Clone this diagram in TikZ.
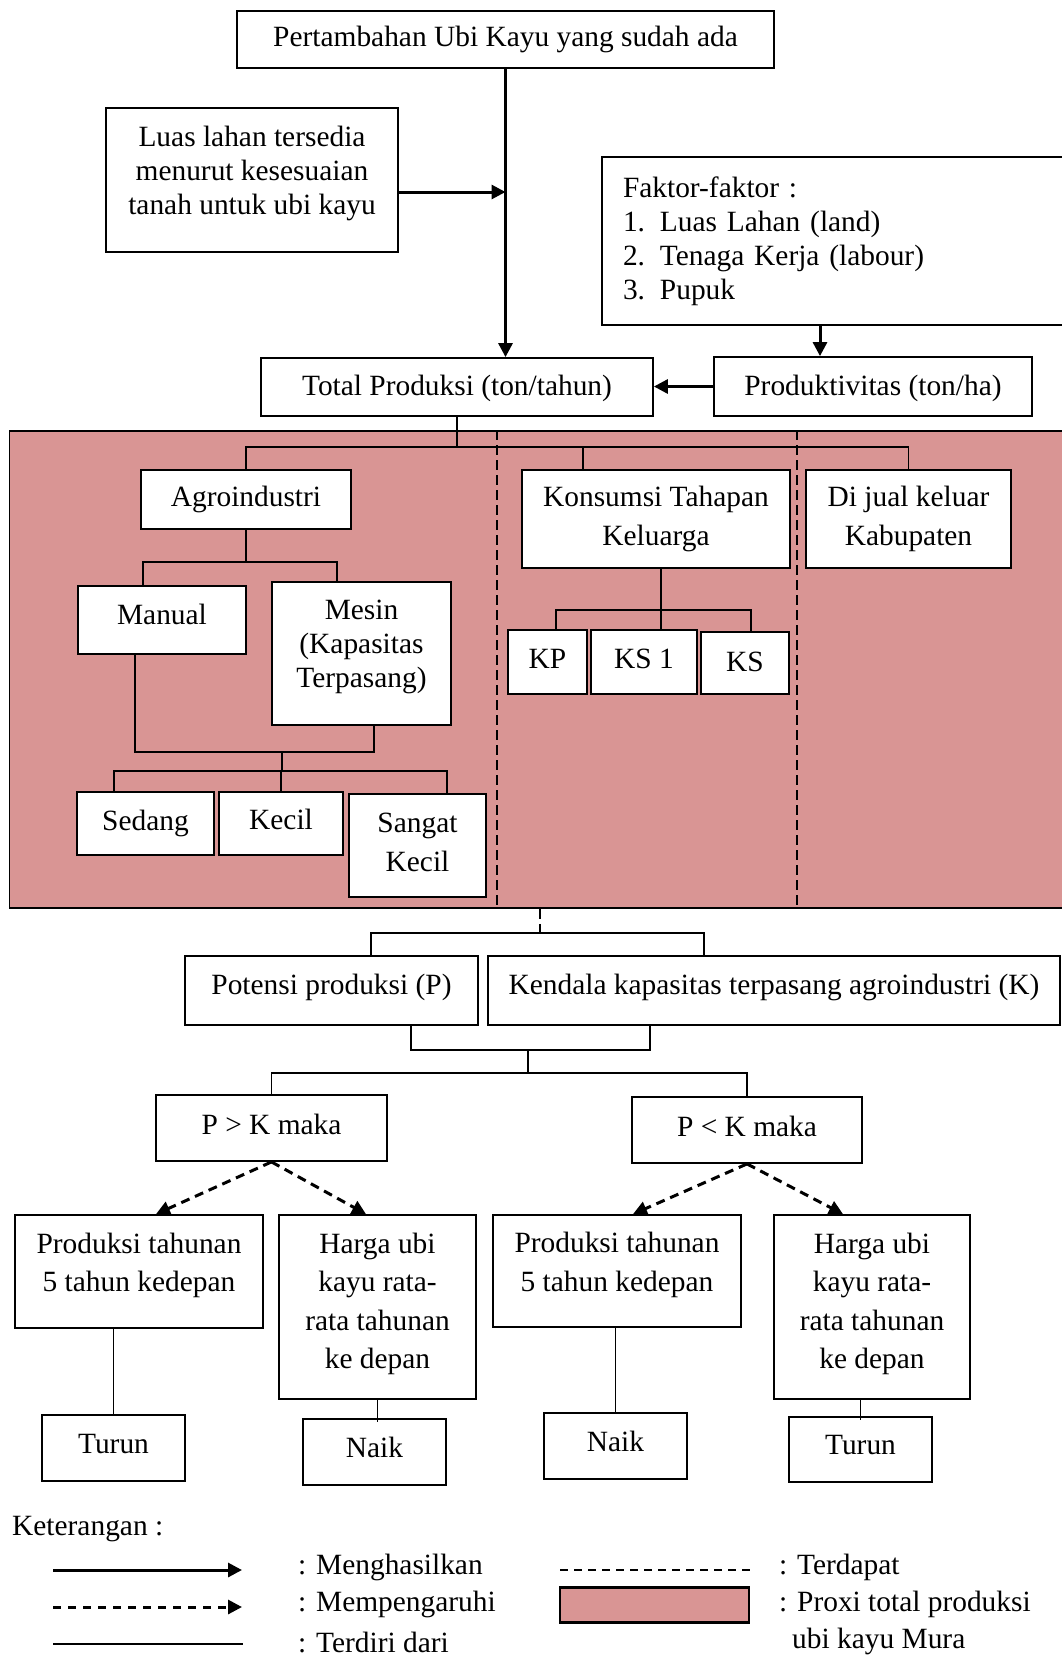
\documentclass[tikz,border=0pt]{standalone}
\usepackage{fontspec}
\setmainfont{Liberation Serif}
\usetikzlibrary{arrows.meta,calc}
\definecolor{pinkfill}{HTML}{D99594}
\begin{document}
\begin{tikzpicture}[x=1pt,y=-1pt,
  font=\fontsize{29.4}{34}\selectfont,
  box/.style={draw, line width=1.8pt, fill=white, inner sep=2pt, align=center},
  wide/.style={font=\fontsize{29.4}{38.5}\selectfont},
  conn/.style={line width=1.8pt},
  arr/.style={line width=3pt, -{Triangle[length=14pt,width=14pt]}},
  darr/.style={line width=3pt, dash pattern=on 9pt off 6pt, -{Triangle[length=14pt,width=14pt]}},
  sepline/.style={line width=1.5pt, dash pattern=on 10pt off 5pt},
  legtext/.style={anchor=west, inner sep=0pt},
]
\useasboundingbox (0,0) rectangle (1062,1657);
\fill[white] (0,0) rectangle (1062,1657);

% ---------- top part ----------
\node[box, minimum width=537pt, minimum height=57pt] (top) at (505.5,39.5) {Pertambahan Ubi Kayu yang sudah ada};
\node[box, minimum width=292pt, minimum height=144pt, text depth=20pt] (luas) at (252,180) {Luas lahan tersedia\\menurut kesesuaian\\tanah untuk ubi kayu};
\node[box, align=left, text width=426pt, inner xsep=21pt, minimum width=468pt, minimum height=168pt] (faktor) at (836,241)
  {Faktor-faktor :\\\makebox[37pt][l]{1.}Luas Lahan (land)\\\makebox[37pt][l]{2.}Tenaga Kerja (labour)\\\makebox[37pt][l]{3.}Pupuk};
\node[box, minimum width=392pt, minimum height=58pt, text depth=3pt] (total) at (457,387) {Total Produksi (ton/tahun)};
\node[box, minimum width=318pt, minimum height=59pt, text depth=3pt] (prod) at (873,386.5) {Produktivitas (ton/ha)};

\draw[arr] (top.south) -- (top.south |- total.north);
\draw[arr] ([yshift=-12pt]luas.east) -- ([yshift=-12pt]luas.east -| top.south);
\draw[arr] ([xshift=-53pt]prod.north |- faktor.south) -- ([xshift=-53pt]prod.north);
\draw[arr] (prod.west) -- (prod.west -| total.east);

% ---------- proxy (pink) region ----------
\node[draw, line width=1.8pt, fill=pinkfill, minimum width=1060.5pt, minimum height=477pt] (proxy) at (539.75,669.5) {};
\draw[sepline] ([xshift=-42.75pt]proxy.north) -- ([xshift=-42.75pt]proxy.south);
\draw[sepline] ([xshift=257.25pt]proxy.north) -- ([xshift=257.25pt]proxy.south);

\coordinate (j1) at (457,447);
\coordinate (j2) at (246,562);
\coordinate (j3) at (282,752);
\coordinate (j4) at (282,771);
\coordinate (j5) at (661,610);

\node[box, minimum width=210pt, minimum height=59pt] (agro) at (246,499.5) {Agroindustri};
\node[box, wide, minimum width=268pt, minimum height=98pt] (kons) at (656,519) {Konsumsi Tahapan\\Keluarga};
\node[box, wide, minimum width=205pt, minimum height=98pt] (dijual) at (908.5,519) {Di jual keluar\\Kabupaten};
\node[box, minimum width=168pt, minimum height=68pt, text depth=11pt] (manual) at (162,620) {Manual};
\node[box, minimum width=179pt, minimum height=143pt, text depth=20pt] (mesin) at (361.5,653.5) {Mesin\\(Kapasitas\\Terpasang)};
\node[box, minimum width=137pt, minimum height=63pt] (sedang) at (145.5,823.5) {Sedang};
\node[box, minimum width=124pt, minimum height=63pt, text depth=8pt] (kecil) at (281,823.5) {Kecil};
\node[box, wide, minimum width=137pt, minimum height=103pt, text depth=6pt] (sangat) at (417.5,845.5) {Sangat\\Kecil};
\node[box, minimum width=79pt, minimum height=64pt, text depth=7pt] (kp) at (547.5,662) {KP};
\node[box, minimum width=106pt, minimum height=64pt, text depth=7pt] (ks1) at (644,662) {KS 1};
\node[box, minimum width=88pt, minimum height=62pt, text depth=2pt] (ks) at (745,663) {KS};

\draw[conn] (total.south) -- (j1);
\draw[conn] (agro.north) |- (j1);
\draw[conn] (dijual.north) |- (j1);
\draw[conn] ([xshift=-73pt]kons.north) -- ([xshift=-73pt]kons.north |- j1);

\draw[conn] (agro.south) -- (j2);
\draw[conn] ([xshift=-19pt]manual.north) |- (j2);
\draw[conn] ([xshift=-24.5pt]mesin.north) |- (j2);
\draw[conn] ([xshift=-27pt]manual.south) |- (j3);
\draw[conn] ([xshift=12.5pt]mesin.south) |- (j3);
\draw[conn] (j3) -- (j4);
\draw[conn] ([xshift=-31.5pt]sedang.north) |- (j4);
\draw[conn] (kecil.north) -- (kecil.north |- j4);
\draw[conn] ([xshift=29.5pt]sangat.north) |- (j4);

\draw[conn] ([xshift=5pt]kons.south) -- ([xshift=5pt]kons.south |- ks1.north);
\draw[conn] ([xshift=8.5pt]kp.north) |- (j5);
\draw[conn] ([xshift=6pt]ks.north) |- (j5);

% ---------- lower part ----------
\coordinate (j6) at (539.75,933);
\coordinate (j7) at (528,1050);
\coordinate (j8) at (528,1073);

\node[box, minimum width=293pt, minimum height=69pt, text depth=12pt] (potensi) at (331.5,990.5) {Potensi produksi (P)};
\node[box, minimum width=572pt, minimum height=69pt, text depth=12pt] (kendala) at (774,990.5) {Kendala kapasitas terpasang agroindustri (K)};
\node[box, minimum width=231pt, minimum height=66pt, text depth=8pt] (pk1) at (271.5,1128) {P \symbol{62} K maka};
\node[box, minimum width=230pt, minimum height=66pt, text depth=8pt] (pk2) at (747,1130) {P \symbol{60} K maka};

\node[box, wide, minimum width=248pt, minimum height=113pt, text depth=18pt] (prodL) at (139,1271.5) {Produksi tahunan\\5 tahun kedepan};
\node[box, wide, minimum width=197pt, minimum height=184pt, text depth=12pt] (hargaL) at (377.5,1307) {Harga ubi\\kayu rata-\\rata tahunan\\ke depan};
\node[box, wide, minimum width=248pt, minimum height=112pt, text depth=18pt] (prodR) at (617,1271) {Produksi tahunan\\5 tahun kedepan};
\node[box, wide, minimum width=196pt, minimum height=184pt, text depth=12pt] (hargaR) at (872,1307) {Harga ubi\\kayu rata-\\rata tahunan\\ke depan};

\node[box, minimum width=143pt, minimum height=66pt, text depth=9pt] (turunL) at (113.5,1448) {Turun};
\node[box, minimum width=143pt, minimum height=66pt, text depth=9pt] (naikL) at (374.5,1452) {Naik};
\node[box, minimum width=143pt, minimum height=66pt, text depth=9pt] (naikR) at (615.5,1446) {Naik};
\node[box, minimum width=143pt, minimum height=65pt, text depth=9pt] (turunR) at (860.5,1449.5) {Turun};

\draw[sepline] (proxy.south) -- (j6);
\draw[conn] ([xshift=39.5pt]potensi.north) |- (j6);
\draw[conn] ([xshift=-70pt]kendala.north) |- (j6);
\draw[conn] ([xshift=79.5pt]potensi.south) |- (j7);
\draw[conn] ([xshift=-124pt]kendala.south) |- (j7);
\draw[conn] (j7) -- (j8);
\draw[conn] (pk1.north) |- (j8);
\draw[conn] (pk2.north) |- (j8);

\draw[darr] (pk1.south) -- ([xshift=17pt]prodL.north);
\draw[darr] (pk1.south) -- ([xshift=-11.5pt]hargaL.north);
\draw[darr] (pk2.south) -- ([xshift=16pt]prodR.north);
\draw[darr] (pk2.south) -- ([xshift=-29pt]hargaR.north);

\draw[conn] (prodL.south -| turunL.north) -- (turunL.north);
\draw[conn] (hargaL.south) -- ([yshift=-4pt]hargaL.south |- naikL.north);
\draw[conn] (prodR.south -| naikR.north) -- (naikR.north);
\draw[conn] (turunR.north |- hargaR.south) -- ([yshift=-4pt]turunR.north);

% ---------- legend ----------
\node[legtext] (ket) at (12,1529) {Keterangan :};
\coordinate (l1a) at (53,1570); \coordinate (l1b) at (242,1570);
\coordinate (l2a) at (53,1607); \coordinate (l2b) at (242,1607);
\coordinate (l3a) at (53,1644); \coordinate (l3b) at (243,1644);
\coordinate (l4a) at (560,1570); \coordinate (l4b) at (750,1570);
\draw[arr] (l1a) -- (l1b);
\draw[darr, dash pattern=on 8pt off 7pt] (l2a) -- (l2b);
\draw[line width=2.6pt] (l3a) -- (l3b);
\draw[line width=1.6pt, dash pattern=on 8pt off 6pt] (l4a) -- (l4b);
\node[draw, line width=2.2pt, fill=pinkfill, minimum width=189pt, minimum height=35pt, inner sep=0pt] (legpink) at (654.5,1605) {};
\node[legtext] (t1) at (298,1567) {: Menghasilkan};
\node[legtext] (t2) at (298,1604) {: Mempengaruhi};
\node[legtext] (t3) at (298,1642) {: Terdiri dari};
\node[legtext] (t4) at (779,1567) {: Terdapat};
\node[legtext] (t5) at (779,1604) {: Proxi total produksi};
\node[legtext] (t6) at (792,1641) {ubi kayu Mura};
\end{tikzpicture}
\end{document}
